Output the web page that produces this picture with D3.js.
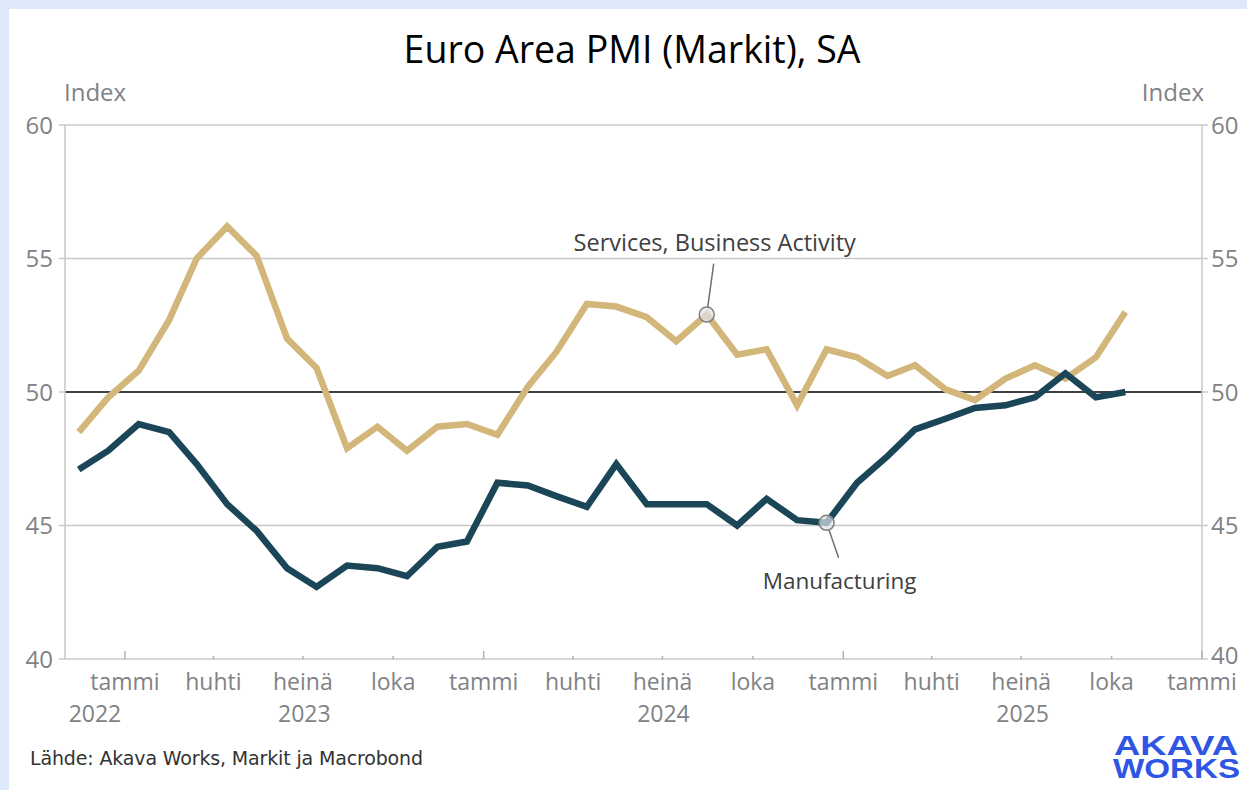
<!DOCTYPE html>
<html>
<head>
<meta charset="utf-8">
<script src="https://cdn.jsdelivr.net/npm/d3@7"></script>
<style>
  body { margin: 0; background: #fff; }
  svg { display: block; font-family: "Open Sans", sans-serif; }
</style>
</head>
<body>
<script>
// monthly readings, Nov 2022 - Oct 2025
var months = ["2022-11","2022-12","2023-01","2023-02","2023-03","2023-04","2023-05","2023-06",
  "2023-07","2023-08","2023-09","2023-10","2023-11","2023-12","2024-01","2024-02","2024-03",
  "2024-04","2024-05","2024-06","2024-07","2024-08","2024-09","2024-10","2024-11","2024-12",
  "2025-01","2025-02","2025-03","2025-04","2025-05","2025-06","2025-07","2025-08","2025-09","2025-10"];
var manufacturing = [47.1,47.8,48.8,48.5,47.3,45.8,44.8,43.4,42.7,43.5,43.4,43.1,44.2,44.4,
  46.6,46.5,46.1,45.7,47.3,45.8,45.8,45.8,45.0,46.0,45.2,45.1,46.6,47.6,48.6,49.0,49.4,49.5,
  49.8,50.7,49.8,50.0];
var services = [48.5,49.8,50.8,52.7,55.0,56.2,55.1,52.0,50.9,47.9,48.7,47.8,48.7,48.8,
  48.4,50.2,51.5,53.3,53.2,52.8,51.9,52.9,51.4,51.6,49.5,51.6,51.3,50.6,51.0,50.1,49.7,50.5,
  51.0,50.5,51.3,53.0];
var yTicks = [40, 45, 50, 55, 60];
var monthNames = ["tammi", "huhti", "heinä", "loka"];
var years = [2022, 2023, 2024, 2025];

var W = 1247, H = 790;
var svg = d3.select("body").append("svg").attr("width", W).attr("height", H);

// light blue frame
svg.append("rect").attr("width", W).attr("height", H).attr("fill", "#dde8fb");
svg.append("rect").attr("x", 9).attr("y", 9).attr("width", W - 9).attr("height", H - 9).attr("fill", "#fff");

var parse = d3.timeParse("%Y-%m-%d");
var mid = function(m) { return parse(m + "-15"); };

var x = d3.scaleTime()
  .domain([parse("2022-11-01"), parse("2026-01-01")])
  .range([65, 1202]);
var y = d3.scaleLinear().domain([40, 60]).range([659, 125]);

var grey = "#7f8286";

// gridlines
svg.append("g").selectAll("line").data(yTicks.filter(function(d) { return d > 40; }))
  .join("line")
    .attr("x1", 65).attr("x2", 1202)
    .attr("y1", function(d) { return y(d); }).attr("y2", function(d) { return y(d); })
    .attr("stroke", function(d) { return d == 50 ? "#000" : "#c8c8c8"; })
    .attr("stroke-width", 1.3);

// axes frame
svg.append("line").attr("x1", 65).attr("x2", 65).attr("y1", 125).attr("y2", 659).attr("stroke", "#c8c8c8").attr("stroke-width", 1.5);
svg.append("line").attr("x1", 1202).attr("x2", 1202).attr("y1", 125).attr("y2", 659).attr("stroke", "#c8c8c8").attr("stroke-width", 1.5);
svg.append("line").attr("x1", 65).attr("x2", 1202).attr("y1", 659).attr("y2", 659).attr("stroke", "#c8c8c8").attr("stroke-width", 1.5);

// y ticks both sides
var yl = svg.append("g").attr("font-size", 24).attr("fill", grey);
yTicks.forEach(function(t) {
  svg.append("line").attr("x1", 59).attr("x2", 65).attr("y1", y(t)).attr("y2", y(t)).attr("stroke", "#c8c8c8").attr("stroke-width", 1.5);
  svg.append("line").attr("x1", 1202).attr("x2", 1208).attr("y1", y(t)).attr("y2", y(t)).attr("stroke", "#c8c8c8").attr("stroke-width", 1.5);
  yl.append("text").attr("x", 53).attr("y", y(t)).attr("dy", "0.36em").attr("text-anchor", "end").text(t);
  yl.append("text").attr("x", 1211).attr("y", t == 40 ? y(t) - 4 : y(t)).attr("dy", "0.36em").text(t);
});
yl.append("text").attr("x", 64).attr("y", 101).text("Index");
yl.append("text").attr("x", 1204).attr("y", 101).attr("text-anchor", "end").text("Index");

// x ticks: quarters
var quarters = d3.timeMonth.every(3).range(parse("2022-12-01"), parse("2026-01-02"));
var xg = svg.append("g").attr("font-size", 23).attr("fill", grey);
quarters.forEach(function(d) {
  var isJan = d.getMonth() == 0;
  svg.append("line").attr("x1", x(d)).attr("x2", x(d))
    .attr("y1", isJan ? 651 : 656).attr("y2", 659)
    .attr("stroke", "#b0b0b0").attr("stroke-width", 1.5);
  xg.append("text").attr("x", x(d)).attr("y", 690).attr("text-anchor", "middle")
    .text(monthNames[d.getMonth() / 3]);
});
years.forEach(function(yr) {
  var a = Math.max(x(new Date(yr, 0, 1)), 65), b = Math.min(x(new Date(yr + 1, 0, 1)), 1202);
  xg.append("text").attr("x", (a + b) / 2).attr("y", 722).attr("text-anchor", "middle").text(yr);
});

// lines
var line = d3.line()
  .x(function(d, i) { return x(mid(months[i])); })
  .y(function(d) { return y(d); });

svg.append("path").datum(services).attr("d", line)
  .attr("fill", "none").attr("stroke", "#d3b679").attr("stroke-width", 6.5).attr("stroke-linejoin", "miter");
svg.append("path").datum(manufacturing).attr("d", line)
  .attr("fill", "none").attr("stroke", "#1a4657").attr("stroke-width", 6.5).attr("stroke-linejoin", "miter");

// annotations
function annotate(i, vals, dx, dy, tx, ty, size, label) {
  var cx = x(mid(months[i])), cy = y(vals[i]);
  var ang = Math.atan2(dy, dx);
  svg.append("line")
    .attr("x1", cx + 7 * Math.cos(ang)).attr("y1", cy + 7 * Math.sin(ang))
    .attr("x2", cx + dx).attr("y2", cy + dy)
    .attr("stroke", "#707070").attr("stroke-width", 1.5);
  svg.append("circle").attr("cx", cx).attr("cy", cy).attr("r", 7.5)
    .attr("fill", "#dfe3ea").attr("fill-opacity", 0.7).attr("stroke", "#808080").attr("stroke-width", 1.5);
  svg.append("text").attr("x", cx + tx).attr("y", cy + ty).attr("text-anchor", "middle")
    .attr("font-size", size).attr("fill", "#404040").text(label);
}
annotate(21, services, 7, -51, 8, -64, 23.5, "Services, Business Activity");
annotate(25, manufacturing, 12, 35, 13, 66, 22.5, "Manufacturing");

// title
svg.append("text").attr("x", 632).attr("y", 63).attr("text-anchor", "middle")
  .attr("font-size", 37.5).attr("fill", "#000").text("Euro Area PMI (Markit), SA");

// source
svg.append("text").attr("x", 30).attr("y", 765).attr("font-size", 19).attr("fill", "#333")
  .attr("font-family", "'DejaVu Sans', sans-serif").attr("textLength", 393).text("Lähde: Akava Works, Markit ja Macrobond");

// logo
var logo = svg.append("g").attr("fill", "#2f55e4").attr("font-weight", "bold")
  .attr("font-family", "'Liberation Sans', sans-serif");
logo.append("text").attr("x", 1114).attr("y", 755).attr("font-size", 28)
  .attr("textLength", 124).attr("lengthAdjust", "spacingAndGlyphs").text("AKAVA");
logo.append("text").attr("x", 1113).attr("y", 778).attr("font-size", 28)
  .attr("textLength", 127).attr("lengthAdjust", "spacingAndGlyphs").text("WORKS");
</script>
</body>
</html>
